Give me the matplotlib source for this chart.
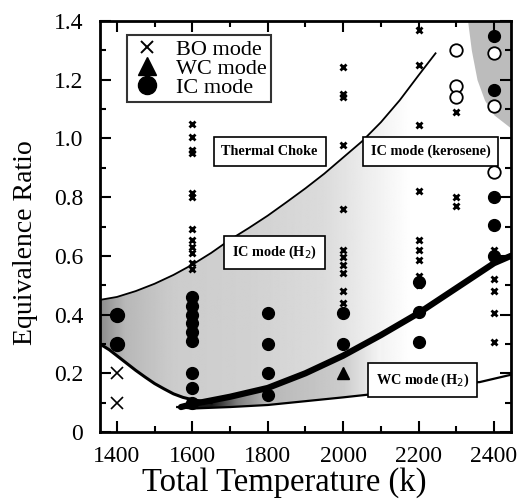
import numpy as np
import matplotlib
matplotlib.use("Agg")
import matplotlib.pyplot as plt
from matplotlib.lines import Line2D

plt.rcParams['font.family'] = ['Liberation Serif', 'DejaVu Serif']

# boundary curves
choke_T = [1355, 1400, 1450, 1500, 1550, 1600, 1650, 1700, 1750, 1800, 1850, 1900,
           1950, 2000, 2050, 2100, 2150, 2200, 2245]
choke_phi = [0.45, 0.46, 0.48, 0.505, 0.535, 0.57, 0.61, 0.655, 0.695, 0.737, 0.783, 0.83,
             0.88, 0.935, 0.99, 1.055, 1.13, 1.215, 1.29]

lean_T = [1355, 1380, 1400, 1425, 1450, 1475, 1500, 1525, 1550, 1575, 1600, 1650]
lean_phi = [0.30, 0.28, 0.26, 0.235, 0.21, 0.187, 0.165, 0.147, 0.13, 0.118, 0.11, 0.10]

icwc_T = [1570, 1600, 1700, 1800, 1900, 2000, 2100, 2200, 2300, 2400, 2445]
icwc_phi = [0.085, 0.095, 0.12, 0.15, 0.20, 0.26, 0.33, 0.405, 0.49, 0.575, 0.60]

wc_T = [1560, 1600, 1700, 1800, 1900, 2000, 2100, 2200, 2300, 2362, 2445]
wc_phi = [0.085, 0.08, 0.085, 0.092, 0.105, 0.118, 0.132, 0.148, 0.165, 0.17, 0.195]

kero_T = [2445, 2400, 2375, 2355, 2340, 2330]
kero_phi = [1.035, 1.08, 1.13, 1.2, 1.3, 1.4]

# BO mode (blow-out)
bo_big_T = [1400, 1400]
bo_big_phi = [0.2, 0.1]
bo_T = ([1600] * 12 + [1800] * 4 + [2000] * 11 + [2200] * 11 + [2300] * 3 + [2400] * 5)
bo_phi = [1.05, 1.005, 0.96, 0.95, 0.815, 0.80, 0.69, 0.655, 0.63, 0.61, 0.575, 0.555,
          0.405, 0.30, 0.20, 0.125,
          1.245, 1.15, 1.14, 0.977, 0.76, 0.62, 0.595, 0.57, 0.54, 0.48, 0.44,
          1.37, 1.25, 1.045, 0.82, 0.655, 0.62, 0.585, 0.53, 0.50, 0.41, 0.305,
          1.09, 0.80, 0.77,
          0.62, 0.52, 0.48, 0.405, 0.305]

# WC mode
wc_pt_T = [2000]
wc_pt_phi = [0.2]

# IC mode
ic_big_T = [1400, 1400]
ic_big_phi = [0.4, 0.3]
ic_T = [1600] * 9 + [1800] * 4 + [2000] * 2 + [2200] * 3 + [2400] * 5
ic_phi = [0.46, 0.43, 0.40, 0.37, 0.34, 0.31, 0.2, 0.15, 0.1,
          0.405, 0.30, 0.20, 0.125,
          0.405, 0.30,
          0.51, 0.41, 0.305,
          1.35, 1.165, 0.80, 0.705, 0.60]
ic_open_T = [2300, 2300, 2300, 2400, 2400, 2400]
ic_open_phi = [1.30, 1.18, 1.14, 1.29, 1.11, 0.885]


def shade(ax, xs, ys, stops, levels):
    poly = ax.fill(xs, ys, facecolor='none', edgecolor='none')[0]
    gx = np.linspace(1355, 2445, 400)
    row = np.interp(gx, stops, levels)
    img = ax.imshow(np.tile(row, (2, 1)), extent=[1355, 2445, 0, 1.4], aspect='auto',
                    cmap='gray', vmin=0, vmax=1, origin='lower', zorder=1,
                    interpolation='bilinear')
    img.set_clip_path(poly)


def main():
    fig = plt.figure(figsize=(5.23, 5.0), dpi=100)
    ax = fig.add_axes([0.191, 0.136, 0.786, 0.822])
    ax.set_xlim(1355, 2445)
    ax.set_ylim(0, 1.4)

    # IC mode (H2) shaded area
    region_x = choke_T + [t for t in wc_T[::-1] if 1600 <= t <= 2200] + lean_T[::-1]
    region_y = choke_phi + [p for t, p in zip(wc_T[::-1], wc_phi[::-1]) if 1600 <= t <= 2200] + lean_phi[::-1]
    shade(ax, region_x, region_y, [1355, 1420, 1550, 1750, 1950, 2080, 2180],
          [0.55, 0.72, 0.8, 0.82, 0.86, 0.94, 1.0])

    # dark WC area near 1600 K
    wc_x = icwc_T[:7] + wc_T[:7][::-1]
    wc_y = icwc_phi[:7] + wc_phi[:7][::-1]
    shade(ax, wc_x, wc_y, [1560, 1650, 1720, 1800, 2000, 2120],
          [0.05, 0.1, 0.5, 0.72, 0.8, 1.0])

    # kerosene IC corner
    ax.fill_betweenx(kero_phi, kero_T, 2445, color='#bcbcbc', lw=0, zorder=1)

    ax.plot(choke_T, choke_phi, color='black', lw=1.3, zorder=3)
    ax.plot(lean_T, lean_phi, color='black', lw=2.2, zorder=3)
    ax.plot(icwc_T, icwc_phi, color='black', lw=4.5, solid_capstyle='round', zorder=3)
    ax.plot(wc_T, wc_phi, color='black', lw=1.6, zorder=3)

    ax.plot(ic_T, ic_phi, 'o', color='black', ms=8.5, zorder=4)
    ax.plot(ic_big_T, ic_big_phi, 'o', color='black', ms=10, zorder=4)
    ax.plot(ic_open_T, ic_open_phi, 'o', mfc='white', mec='black', mew=1.3, ms=9, zorder=4)
    ax.plot(wc_pt_T, wc_pt_phi, '^', color='black', ms=9, zorder=4)
    ax.plot(bo_T, bo_phi, 'x', color='black', ms=5, mew=2, zorder=5)
    ax.plot(bo_big_T, bo_big_phi, 'x', color='black', ms=9, mew=1.2, zorder=5)

    box = dict(boxstyle='square,pad=0.55', facecolor='white', edgecolor='black', lw=1.2)
    kw = dict(fontsize=10.3, weight='bold', ha='center', va='center', bbox=box, zorder=6)
    ax.text(1805, 0.955, 'Thermal Choke', **kw)
    ax.text(2232, 0.955, 'IC mode (kerosene)', **kw)
    ax.text(1818, 0.613, r'IC mode (H$_2$)', **kw)
    ax.text(2211, 0.177, r'WC mode (H$_2$)', **kw)

    handles = [Line2D([], [], ls='', marker='x', color='black', ms=9, mew=1.4),
               Line2D([], [], ls='', marker='^', color='black', ms=13),
               Line2D([], [], ls='', marker='o', color='black', ms=13)]
    leg = ax.legend(handles, ['BO mode', 'WC mode', 'IC mode'], loc='upper left',
                    bbox_to_anchor=(0.066, 0.966), fontsize=16, frameon=True, fancybox=False,
                    borderpad=0.2, labelspacing=-0.08, handletextpad=0.6, handlelength=1.4,
                    borderaxespad=0)
    leg.get_frame().set_edgecolor('black')
    leg.get_frame().set_linewidth(1.5)
    leg.set_zorder(7)

    ax.set_xticks([1400, 1600, 1800, 2000, 2200, 2400])
    ax.set_xticks(np.arange(1400, 2450, 100), minor=True)
    ax.set_yticks([0, 0.2, 0.4, 0.6, 0.8, 1.0, 1.2, 1.4])
    ax.set_yticklabels(['0', '0.2', '0.4', '0.6', '0.8', '1.0', '1.2', '1.4'])
    ax.set_yticks(np.arange(0, 1.41, 0.1), minor=True)
    ax.tick_params(which='both', direction='in', top=True, right=True, width=1.5, labelsize=17)
    ax.tick_params(which='major', length=8)
    ax.tick_params(which='minor', length=4)
    ax.tick_params(axis='x', pad=10)
    ax.tick_params(axis='y', pad=12)
    for s in ax.spines.values():
        s.set_linewidth(2)

    ax.set_xlabel('Total Temperature (k)', fontsize=23.5)
    ax.set_ylabel('Equivalence Ratio', fontsize=20)
    ax.xaxis.set_label_coords(0.448, -0.085)
    ax.yaxis.set_label_coords(-0.15, 0.46)

    fig.savefig('out.png', dpi=100)


if __name__ == "__main__":
    main()
